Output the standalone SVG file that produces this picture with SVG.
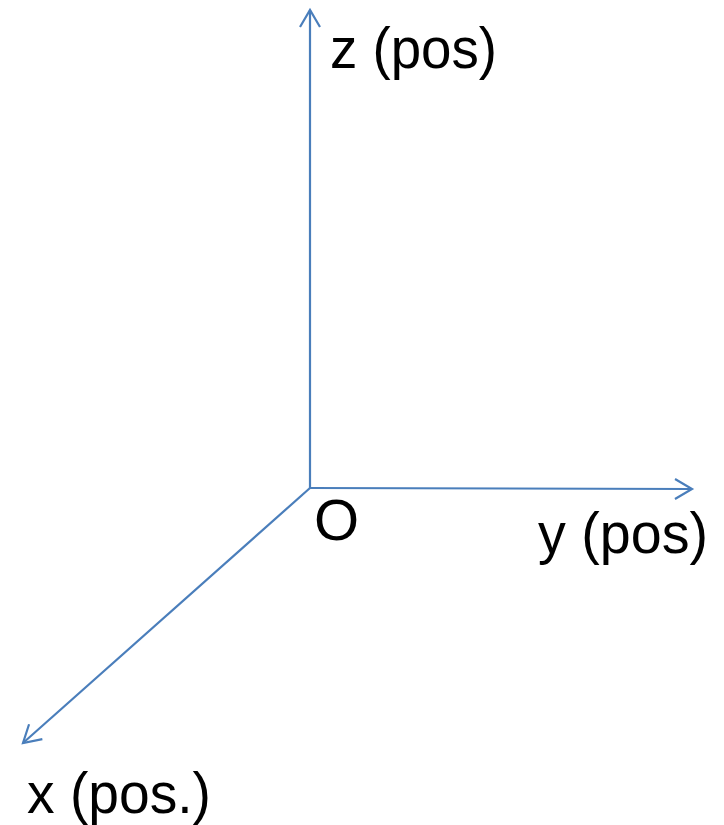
<svg xmlns="http://www.w3.org/2000/svg" width="724" height="825" viewBox="0 0 724 825">
<style>
.axis{stroke:#4a7ebb;stroke-width:2.2;fill:none}
.lbl{font-family:"Liberation Sans",Arial,sans-serif;font-size:58px;fill:#000}
</style>
<defs>
<marker id="arr" markerUnits="userSpaceOnUse" markerWidth="40" markerHeight="40" viewBox="-20 -20 40 40" refX="0" refY="0" orient="auto">
<path d="M-17,-10 L0,0 L-17,10" fill="none" stroke="#4a7ebb" stroke-width="2.2"/>
</marker>
</defs>
<g id="connectors">
<line class="axis" x1="310" y1="488" x2="310" y2="10" marker-end="url(#arr)"/>
<line class="axis" x1="310" y1="488" x2="692" y2="489" marker-end="url(#arr)"/>
<line class="axis" x1="310" y1="488" x2="23" y2="743" marker-end="url(#arr)"/>
</g>
<g id="z-label"><text class="lbl" x="330" y="68" textLength="167" lengthAdjust="spacingAndGlyphs">z (pos)</text></g>
<g id="origin"><text class="lbl" x="314" y="540">O</text></g>
<g id="y-label"><text class="lbl" x="538" y="553" textLength="170" lengthAdjust="spacingAndGlyphs">y (pos)</text></g>
<g id="x-label"><text class="lbl" x="27" y="813" textLength="184" lengthAdjust="spacingAndGlyphs">x (pos.)</text></g>
</svg>
